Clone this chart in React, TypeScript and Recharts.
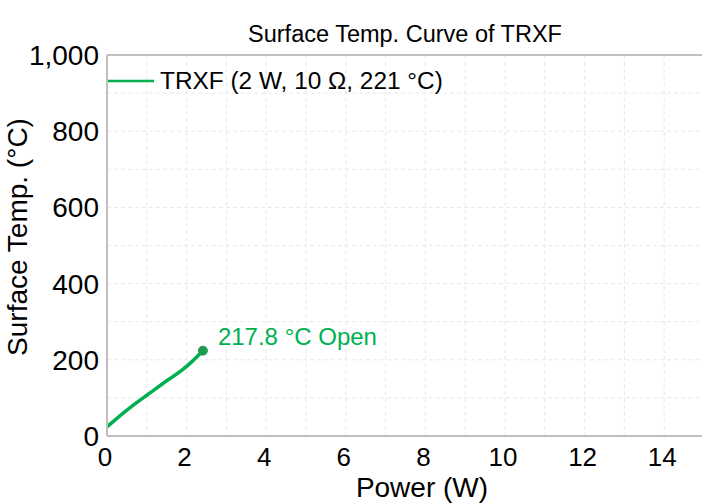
import React from 'react';
import { LineChart, Line, XAxis, YAxis, CartesianGrid, ReferenceDot, ReferenceLine, Legend } from 'recharts';

const powerW = [0, 0.3, 0.66, 1.0, 1.16, 1.5, 1.85, 2.1, 2.41];
const tempC = [24, 51, 81, 107, 119, 145, 170, 192, 224];
const xTicks = [0, 2, 4, 6, 8, 10, 12, 14];
const yTicks = [0, 200, 400, 600, 800, 1000];
const xGrid = [0, 1, 2, 3, 4, 5, 6, 7, 8, 9, 10, 11, 12, 13, 14, 15];
const yGrid = [0, 100, 200, 300, 400, 500, 600, 700, 800, 900, 1000];
const seriesName = 'TRXF (2 W, 10 Ω, 221 °C)';
const chartTitle = 'Surface Temp. Curve of TRXF';
const xTitle = 'Power (W)';
const yTitle = 'Surface Temp. (°C)';
const endLabel = '217.8 °C Open';

const rows = powerW.map((p, i) => ({ p, t: tempC[i] }));
const last = rows[rows.length - 1];

const FONT = '"Liberation Sans", Arial, sans-serif';
const GREEN = '#00B050';
const DOT = '#1E9B4F';

const yFmt = (v: number) => v.toLocaleString('en-US');

const LegendContent = () => (
  <div style={{ display: 'flex', alignItems: 'center', fontFamily: FONT, fontSize: 24.4, color: '#000', whiteSpace: 'nowrap', height: 28 }}>
    <svg width={46} height={6} style={{ marginRight: 6 }}>
      <line x1={0} y1={3} x2={46} y2={3} stroke={GREEN} strokeWidth={2.5} />
    </svg>
    <span>{seriesName}</span>
  </div>
);

const EndLabel = (props: any) => {
  const vb = props.viewBox || {};
  const cx = vb.x + (vb.width || 0) / 2;
  const cy = vb.y + (vb.height || 0) / 2;
  return (
    <text x={cx + 15} y={cy - 6} fill={GREEN} fontSize={24} fontFamily={FONT}>
      {endLabel}
    </text>
  );
};

export default function App() {
  return (
    <div style={{ position: 'absolute', left: 0, top: 0, width: 702, height: 503, overflow: 'hidden', background: '#fff', fontFamily: FONT }}>
      <LineChart width={704} height={503} data={rows} margin={{ top: 55, right: 0, bottom: 0, left: 0 }}>
        <XAxis xAxisId="g" dataKey="p" type="number" domain={[0, 15]} ticks={xGrid} hide />
        <YAxis yAxisId="g" dataKey="t" type="number" domain={[0, 1000]} ticks={yGrid} allowDataOverflow hide />
        <CartesianGrid xAxisId="g" yAxisId="g" stroke="#e8e8e8" strokeDasharray="4 3" />
        <XAxis
          dataKey="p"
          type="number"
          domain={[0, 15]}
          ticks={xTicks}
          height={67}
          tickMargin={6}
          axisLine={{ stroke: '#bfbfbf', strokeWidth: 2 }}
          tickLine={false}
          tick={{ fontSize: 26, fill: '#000', fontFamily: FONT, dx: -2 }}
        />
        <YAxis
          dataKey="t"
          type="number"
          domain={[0, 1000]}
          ticks={yTicks}
          width={107}
          tickFormatter={yFmt}
          axisLine={{ stroke: '#bfbfbf', strokeWidth: 2 }}
          tickLine={false}
          tick={{ fontSize: 28, fill: '#000', fontFamily: FONT }}
        />
        <ReferenceLine y={1000} stroke="#bfbfbf" strokeWidth={2} />
        <Legend
          layout="horizontal"
          verticalAlign="top"
          align="left"
          content={LegendContent}
          wrapperStyle={{ position: 'absolute', top: 67, left: 108, width: 'auto', height: 0, overflow: 'visible' }}
        />
        <Line
          type="monotone"
          dataKey="t"
          name={seriesName}
          stroke={GREEN}
          strokeWidth={3.5}
          dot={false}
          isAnimationActive={false}
        />
        <ReferenceDot x={last.p} y={last.t} r={4.5} fill={DOT} stroke={DOT} label={<EndLabel />} />
      </LineChart>
      <svg width={702} height={503} style={{ position: 'absolute', left: 0, top: 0, pointerEvents: 'none' }}>
        <text x={405} y={42} textAnchor="middle" fontSize={23.5} fontFamily={FONT} fill="#000">{chartTitle}</text>
        <text x={422} y={497} textAnchor="middle" fontSize={28} fontFamily={FONT} fill="#000">{xTitle}</text>
        <text x={0} y={0} transform="translate(27,237) rotate(-90)" textAnchor="middle" fontSize={28} fontFamily={FONT} fill="#000">{yTitle}</text>
      </svg>
    </div>
  );
}
